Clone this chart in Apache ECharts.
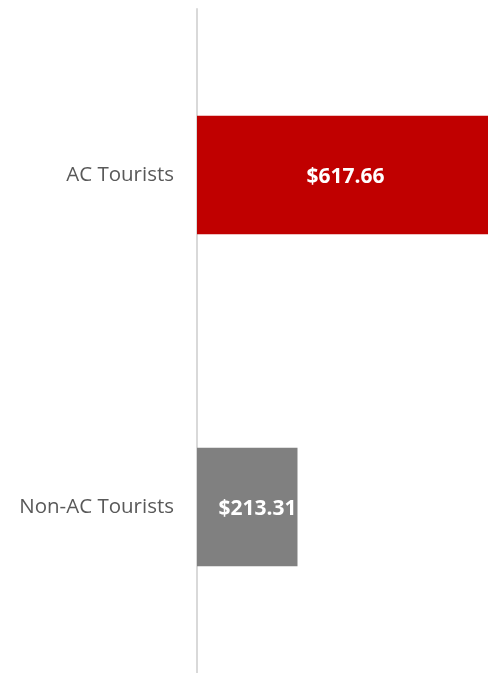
<!DOCTYPE html>
<html>
<head>
<meta charset="utf-8">
<script src="https://cdn.jsdelivr.net/npm/echarts@6/dist/echarts.min.js"></script>
<style>
  html, body { margin: 0; padding: 0; background: #fff; }
  #chart { width: 488px; height: 673px; }
</style>
</head>
<body>
<div id="chart"></div>
<script>
const categories = ['Non-AC Tourists', 'AC Tourists']
const spending = [213.31, 617.66]
const barColors = ['#808080', '#C00000']
const labelPositions = ['insideRight', 'inside']

const chart = echarts.init(document.getElementById('chart'))

chart.setOption({
  animation: false,
  grid: { left: 197, right: 0, top: 9, height: 666, containLabel: false },
  xAxis: {
    type: 'value',
    min: 0,
    max: 617.66,
    show: false
  },
  yAxis: {
    type: 'category',
    data: categories,
    axisLine: { show: true, lineStyle: { color: '#d9d9d9', width: 2 } },
    axisTick: { show: false },
    axisLabel: {
      color: '#595959',
      fontSize: 20.5,
      fontFamily: 'Open Sans',
      margin: 23,
      padding: [3, 0, 0, 0]
    }
  },
  series: [{
    type: 'bar',
    barWidth: '35.7%',
    data: spending.map((v, i) => ({
      value: v,
      itemStyle: { color: barColors[i] },
      label: { position: labelPositions[i], offset: i === 1 ? [3, 2] : [0, 2] }
    })),
    label: {
      show: true,
      color: '#fff',
      fontWeight: 'bold',
      fontSize: 21,
      fontFamily: 'Open Sans',
      distance: 1,
      formatter: p => '$' + p.value.toFixed(2)
    }
  }]
})
</script>
</body>
</html>
